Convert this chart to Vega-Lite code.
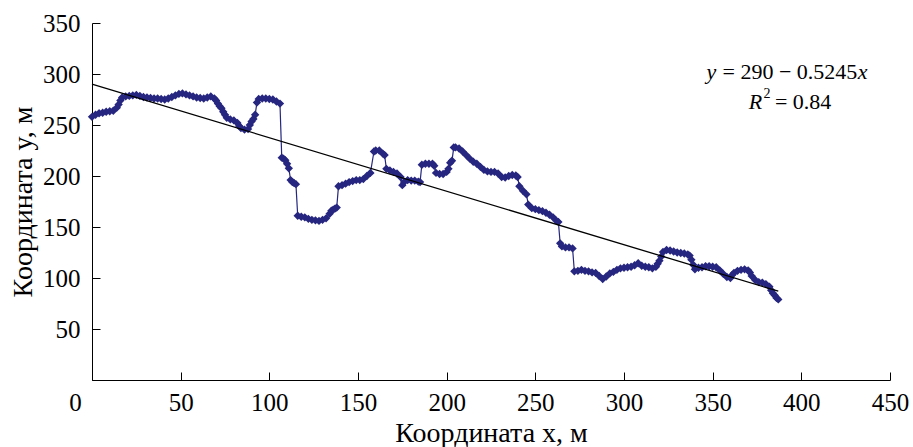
{
  "$schema": "https://vega.github.io/schema/vega-lite/v6.json",
  "width": 798,
  "height": 357,
  "autosize": {"type": "none"},
  "padding": {"left": 92, "top": 23, "right": 23, "bottom": 67},
  "background": "white",
  "config": {
    "view": {"stroke": null},
    "font": "Liberation Serif",
    "axis": {
      "grid": false,
      "domainColor": "#000000",
      "domainWidth": 1,
      "tickColor": "#000000",
      "tickWidth": 1,
      "tickSize": -8,
      "labelColor": "#000000",
      "titleColor": "#000000",
      "labelFont": "Liberation Serif",
      "titleFont": "Liberation Serif",
      "labelFontSize": 25,
      "titleFontSize": 28,
      "titleFontWeight": "normal"
    }
  },
  "datasets": {
    "route": [
      {"x": 0, "y": 258}, {"x": 2, "y": 260}, {"x": 4, "y": 261.5}, {"x": 6, "y": 262}, {"x": 8, "y": 263},
      {"x": 10, "y": 263.5}, {"x": 12, "y": 264}, {"x": 14, "y": 267}, {"x": 15, "y": 270}, {"x": 16, "y": 274},
      {"x": 17, "y": 277}, {"x": 19, "y": 278}, {"x": 21, "y": 278.5}, {"x": 23, "y": 279}, {"x": 25, "y": 279.5},
      {"x": 27, "y": 278.5}, {"x": 29, "y": 277.5}, {"x": 31, "y": 277}, {"x": 33, "y": 276.5}, {"x": 35, "y": 276},
      {"x": 37, "y": 276}, {"x": 39, "y": 275.5}, {"x": 41, "y": 275}, {"x": 43, "y": 276}, {"x": 45, "y": 277.5},
      {"x": 47, "y": 279}, {"x": 49, "y": 280.5}, {"x": 51, "y": 281}, {"x": 53, "y": 280}, {"x": 55, "y": 279},
      {"x": 57, "y": 278}, {"x": 59, "y": 277}, {"x": 61, "y": 276.5}, {"x": 63, "y": 276}, {"x": 65, "y": 277},
      {"x": 67, "y": 278}, {"x": 69, "y": 276}, {"x": 70, "y": 274}, {"x": 71, "y": 271}, {"x": 72, "y": 268.5},
      {"x": 73, "y": 266.5}, {"x": 74, "y": 263}, {"x": 75, "y": 260}, {"x": 76, "y": 257}, {"x": 78, "y": 255.5},
      {"x": 80, "y": 254.5}, {"x": 82, "y": 252}, {"x": 83, "y": 249}, {"x": 84, "y": 247}, {"x": 86, "y": 245.5},
      {"x": 88, "y": 246}, {"x": 89, "y": 250}, {"x": 90, "y": 253.5}, {"x": 91, "y": 256}, {"x": 92, "y": 260},
      {"x": 93, "y": 272}, {"x": 94, "y": 275.5}, {"x": 96, "y": 276}, {"x": 98, "y": 276}, {"x": 100, "y": 275.5},
      {"x": 102, "y": 275}, {"x": 104, "y": 273}, {"x": 106, "y": 271}, {"x": 107, "y": 218}, {"x": 108, "y": 217},
      {"x": 109, "y": 215.5}, {"x": 110, "y": 212}, {"x": 111, "y": 207.5}, {"x": 112, "y": 196}, {"x": 113, "y": 194},
      {"x": 114, "y": 193}, {"x": 115, "y": 192}, {"x": 116, "y": 161}, {"x": 118, "y": 160}, {"x": 120, "y": 159.5},
      {"x": 122, "y": 158}, {"x": 124, "y": 157}, {"x": 126, "y": 156.5}, {"x": 128, "y": 156}, {"x": 130, "y": 157},
      {"x": 132, "y": 158.5}, {"x": 134, "y": 163}, {"x": 135, "y": 166}, {"x": 136, "y": 167}, {"x": 137, "y": 168},
      {"x": 138, "y": 169}, {"x": 139, "y": 190}, {"x": 141, "y": 191}, {"x": 143, "y": 192.5}, {"x": 145, "y": 194},
      {"x": 147, "y": 195}, {"x": 149, "y": 196}, {"x": 151, "y": 196}, {"x": 153, "y": 197}, {"x": 155, "y": 200},
      {"x": 157, "y": 203}, {"x": 159, "y": 224}, {"x": 160, "y": 225}, {"x": 162, "y": 225}, {"x": 164, "y": 222},
      {"x": 165, "y": 220.5}, {"x": 166, "y": 207}, {"x": 168, "y": 205.5}, {"x": 170, "y": 204}, {"x": 172, "y": 202.5},
      {"x": 174, "y": 199}, {"x": 175, "y": 191}, {"x": 176, "y": 194}, {"x": 178, "y": 196}, {"x": 180, "y": 195.5},
      {"x": 182, "y": 195.5}, {"x": 184, "y": 194.5}, {"x": 185, "y": 194}, {"x": 186, "y": 211}, {"x": 188, "y": 212},
      {"x": 190, "y": 212}, {"x": 192, "y": 212}, {"x": 193, "y": 210}, {"x": 194, "y": 203}, {"x": 196, "y": 202},
      {"x": 198, "y": 202}, {"x": 200, "y": 204}, {"x": 201, "y": 207}, {"x": 202, "y": 213}, {"x": 203, "y": 215},
      {"x": 204, "y": 228}, {"x": 205, "y": 228}, {"x": 207, "y": 227}, {"x": 209, "y": 224}, {"x": 211, "y": 220.5},
      {"x": 213, "y": 217}, {"x": 215, "y": 214}, {"x": 217, "y": 212}, {"x": 219, "y": 209}, {"x": 221, "y": 206},
      {"x": 223, "y": 204.5}, {"x": 225, "y": 204}, {"x": 227, "y": 204}, {"x": 229, "y": 202.5}, {"x": 231, "y": 199},
      {"x": 233, "y": 198.5}, {"x": 235, "y": 200}, {"x": 237, "y": 201}, {"x": 239, "y": 200.5}, {"x": 240, "y": 199},
      {"x": 241, "y": 190}, {"x": 243, "y": 185.5}, {"x": 245, "y": 182}, {"x": 246, "y": 172}, {"x": 248, "y": 168.5},
      {"x": 250, "y": 167.5}, {"x": 252, "y": 166.5}, {"x": 254, "y": 165.5}, {"x": 256, "y": 164}, {"x": 258, "y": 162},
      {"x": 260, "y": 159.5}, {"x": 262, "y": 156}, {"x": 263, "y": 155}, {"x": 264, "y": 134}, {"x": 265, "y": 131},
      {"x": 267, "y": 130}, {"x": 269, "y": 130}, {"x": 271, "y": 129}, {"x": 272, "y": 106.5}, {"x": 274, "y": 107},
      {"x": 276, "y": 108}, {"x": 278, "y": 107}, {"x": 280, "y": 106.5}, {"x": 282, "y": 105.5}, {"x": 284, "y": 105},
      {"x": 286, "y": 102}, {"x": 288, "y": 99}, {"x": 290, "y": 101.5}, {"x": 292, "y": 104.5}, {"x": 294, "y": 106},
      {"x": 296, "y": 108}, {"x": 298, "y": 109.5}, {"x": 300, "y": 110}, {"x": 302, "y": 110.5}, {"x": 304, "y": 111},
      {"x": 306, "y": 112.5}, {"x": 308, "y": 114.5}, {"x": 310, "y": 112}, {"x": 312, "y": 111}, {"x": 314, "y": 110.5},
      {"x": 316, "y": 109.5}, {"x": 318, "y": 111}, {"x": 319, "y": 114}, {"x": 320, "y": 117}, {"x": 321, "y": 121},
      {"x": 322, "y": 125.5}, {"x": 324, "y": 127.5}, {"x": 326, "y": 127}, {"x": 328, "y": 126}, {"x": 330, "y": 125},
      {"x": 332, "y": 124.5}, {"x": 334, "y": 124}, {"x": 336, "y": 123}, {"x": 337, "y": 122}, {"x": 338, "y": 118},
      {"x": 339, "y": 113}, {"x": 340, "y": 108.5}, {"x": 342, "y": 110}, {"x": 344, "y": 110.5}, {"x": 346, "y": 111.5},
      {"x": 348, "y": 111.5}, {"x": 350, "y": 111}, {"x": 352, "y": 110.5}, {"x": 354, "y": 107.5}, {"x": 356, "y": 104},
      {"x": 358, "y": 101}, {"x": 360, "y": 100}, {"x": 361, "y": 103}, {"x": 362, "y": 105}, {"x": 364, "y": 107},
      {"x": 366, "y": 108}, {"x": 368, "y": 108.5}, {"x": 370, "y": 107.5}, {"x": 371, "y": 105.5}, {"x": 372, "y": 102},
      {"x": 374, "y": 98}, {"x": 376, "y": 96}, {"x": 378, "y": 95.5}, {"x": 380, "y": 94}, {"x": 382, "y": 91.5},
      {"x": 383, "y": 88}, {"x": 384, "y": 85}, {"x": 385, "y": 83}, {"x": 386, "y": 80.5}, {"x": 387, "y": 79}
    ],
    "trend": [
      {"x": 0, "y": 290},
      {"x": 387, "y": 87.02}
    ],
    "equation": [
      {"x": 352.0, "y": 302, "text": "y", "style": "italic", "side": "right"},
      {"x": 431.6, "y": 302, "text": "= 290 − 0.5245", "style": "normal", "side": "right"},
      {"x": 431.8, "y": 302, "text": "x", "style": "italic", "side": "left"},
      {"x": 378.0, "y": 272.5, "text": "R", "style": "italic", "side": "right"},
      {"x": 416.9, "y": 272.5, "text": "= 0.84", "style": "normal", "side": "right"}
    ],
    "superscript": [
      {"x": 378.6, "y": 280.4, "text": "2"}
    ]
  },
  "encoding": {
    "x": {
      "field": "x",
      "type": "quantitative",
      "scale": {"domain": [0, 450], "nice": false, "zero": false},
      "axis": {
        "values": [0, 50, 100, 150, 200, 250, 300, 350, 400, 450],
        "labelPadding": 18,
        "labelOffset": {"condition": {"test": "datum.value === 0", "value": -17}, "value": 0},
        "labelFlush": false,
        "title": "Координата x, м",
        "titlePadding": 4
      }
    },
    "y": {
      "field": "y",
      "type": "quantitative",
      "scale": {"domain": [0, 350], "nice": false, "zero": false},
      "axis": {
        "values": [0, 50, 100, 150, 200, 250, 300, 350],
        "labelExpr": "datum.value === 0 ? '' : datum.label",
        "labelPadding": 20,
        "labelFlush": false,
        "title": "Координата y, м",
        "titlePadding": 5
      }
    }
  },
  "layer": [
    {
      "data": {"name": "route"},
      "mark": {"type": "line", "color": "#262680", "strokeWidth": 1.2}
    },
    {
      "data": {"name": "route"},
      "mark": {"type": "point", "shape": "diamond", "filled": true, "size": 70, "color": "#262680", "opacity": 1}
    },
    {
      "data": {"name": "trend"},
      "mark": {"type": "line", "color": "#000000", "strokeWidth": 1.3}
    },
    {
      "data": {"name": "equation"},
      "transform": [{"filter": "datum.style === 'italic' && datum.side === 'right'"}],
      "mark": {"type": "text", "align": "right", "baseline": "middle", "font": "Liberation Serif", "fontSize": 22, "fontStyle": "italic", "color": "#000000"},
      "encoding": {"text": {"field": "text"}}
    },
    {
      "data": {"name": "equation"},
      "transform": [{"filter": "datum.style === 'italic' && datum.side === 'left'"}],
      "mark": {"type": "text", "align": "left", "baseline": "middle", "font": "Liberation Serif", "fontSize": 22, "fontStyle": "italic", "color": "#000000"},
      "encoding": {"text": {"field": "text"}}
    },
    {
      "data": {"name": "equation"},
      "transform": [{"filter": "datum.style === 'normal'"}],
      "mark": {"type": "text", "align": "right", "baseline": "middle", "font": "Liberation Serif", "fontSize": 22, "color": "#000000"},
      "encoding": {"text": {"field": "text"}}
    },
    {
      "data": {"name": "superscript"},
      "mark": {"type": "text", "align": "left", "baseline": "middle", "font": "Liberation Serif", "fontSize": 14, "color": "#000000"},
      "encoding": {"text": {"field": "text"}}
    }
  ]
}
